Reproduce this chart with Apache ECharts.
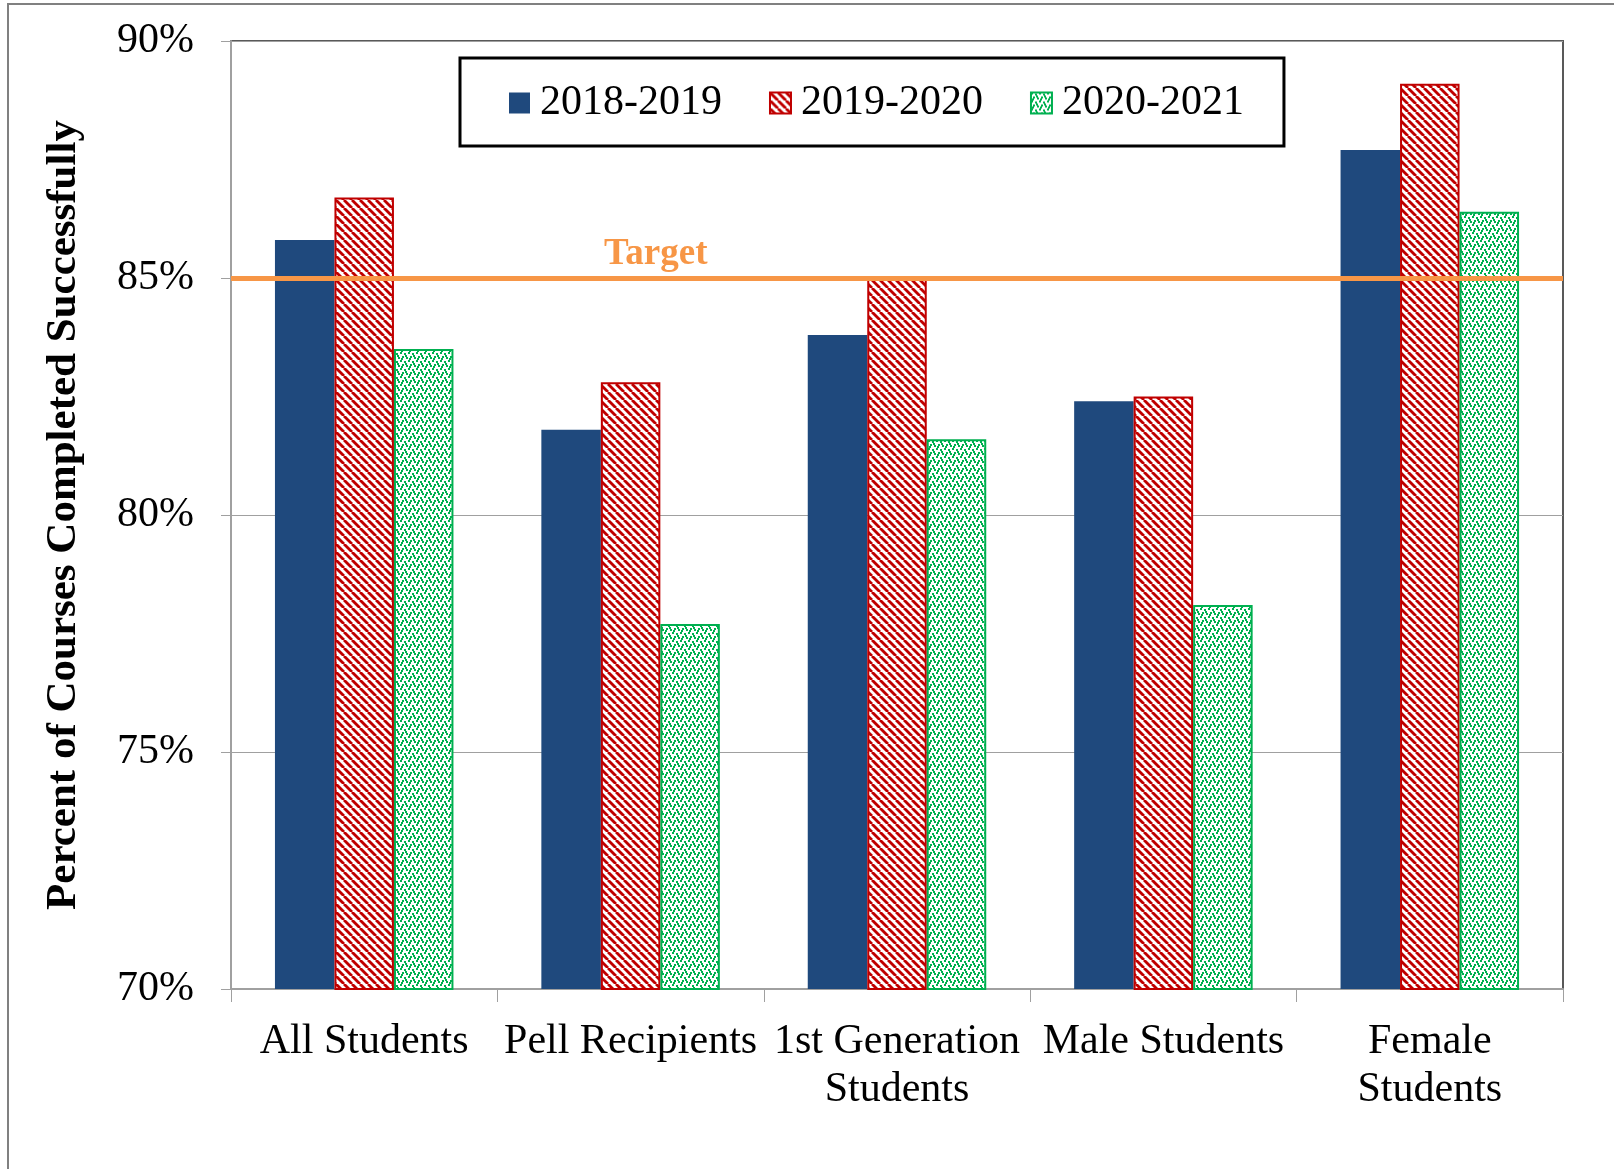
<!DOCTYPE html>
<html>
<head>
<meta charset="utf-8">
<script src="https://cdn.jsdelivr.net/npm/echarts@6/dist/echarts.min.js"></script>
<style>
  html, body { margin: 0; padding: 0; background: #fff; }
  #main { width: 1614px; height: 1169px; }
</style>
</head>
<body>
<div id="main"></div>
<script>
// 类别
var categories = ['All Students', 'Pell Recipients', '1st Generation\nStudents', 'Male Students', 'Female\nStudents'];
// 年份
var years = ['2018-2019', '2019-2020', '2020-2021'];
// 各年数据 (%)
var vals1819 = [85.8, 81.8, 83.8, 82.4, 87.7];
var vals1920 = [86.7, 82.8, 85.0, 82.5, 89.1];
var vals2021 = [83.5, 77.7, 81.6, 78.1, 86.4];
// 目标线
var target = 85;
var yTicks = { min: 70, max: 90, step: 5 };

var serif = '"Liberation Serif", "Times New Roman", serif';

// 斜线填充
function stripePattern() {
    var c = document.createElement('canvas');
    var s = 8;
    c.width = s; c.height = s;
    var ctx = c.getContext('2d');
    ctx.fillStyle = '#fff';
    ctx.fillRect(0, 0, s, s);
    ctx.strokeStyle = '#C00000';
    ctx.lineWidth = 2.8;
    for (var o = -s; o <= s; o += s) {
        ctx.beginPath();
        ctx.moveTo(o, 0);
        ctx.lineTo(o + s, s);
        ctx.stroke();
    }
    return c;
}

// 点状填充
function dotPattern() {
    var c = document.createElement('canvas');
    var s = 8;
    c.width = s; c.height = s;
    var ctx = c.getContext('2d');
    ctx.fillStyle = '#fff';
    ctx.fillRect(0, 0, s, s);
    ctx.fillStyle = '#00B050';
    var pts = [[0, 0], [4, 1], [2, 4], [6, 5], [1, 6], [5, 3]];
    pts.forEach(function (p) { ctx.fillRect(p[0], p[1], 2, 2); });
    return c;
}

var chart = echarts.init(document.getElementById('main'));
var option = {
    backgroundColor: '#fff',
    animation: false,
    graphic: [
        {
            type: 'rect',
            shape: { x: 8, y: 4, width: 1700, height: 1300 },
            style: { fill: 'none', stroke: '#808080', lineWidth: 2 },
            silent: true
        }
    ],
    grid: {
        left: 231, right: 51, top: 41, bottom: 180,
        show: true, borderColor: '#595959', borderWidth: 2
    },
    legend: {
        left: 460, top: 58,
        padding: [22, 40, 20, 49],
        borderColor: '#000', borderWidth: 3,
        itemWidth: 21, itemHeight: 21, itemGap: 47,
        icon: 'rect',
        textStyle: { fontFamily: serif, fontSize: 42, color: '#000', lineHeight: 46, padding: [0, 0, 0, 5] },
        data: years
    },
    xAxis: {
        type: 'category',
        data: categories,
        axisLine: { lineStyle: { color: '#A0A0A0', width: 2 } },
        axisTick: { show: true, length: 13, lineStyle: { color: '#A0A0A0', width: 1 } },
        axisLabel: { fontFamily: serif, fontSize: 42, color: '#000', lineHeight: 48, margin: 29, interval: 0 }
    },
    yAxis: {
        type: 'value',
        min: yTicks.min, max: yTicks.max, interval: yTicks.step,
        name: 'Percent of Courses Completed Successfully',
        nameLocation: 'middle',
        nameGap: 146,
        nameTextStyle: { fontFamily: serif, fontSize: 43, fontWeight: 'bold', color: '#000' },
        axisLine: { show: true, lineStyle: { color: '#A0A0A0', width: 2 } },
        axisTick: { show: true, length: 10, lineStyle: { color: '#A0A0A0' } },
        axisLabel: { formatter: '{value}%', fontFamily: serif, fontSize: 42, color: '#000', margin: 37 },
        splitLine: { lineStyle: { color: '#A0A0A0', width: 1 } }
    },
    series: [
        {
            name: years[0],
            type: 'bar',
            data: vals1819,
            barGap: '0%',
            barCategoryGap: '33%',
            itemStyle: { color: '#1F497D' },
            markLine: {
                silent: true,
                symbol: 'none',
                data: [{ yAxis: target }],
                lineStyle: { color: '#F79646', width: 5, type: 'solid' },
                label: {
                    show: true,
                    position: 'insideStartTop',
                    formatter: 'Target',
                    color: '#F79646',
                    fontFamily: serif,
                    fontWeight: 'bold',
                    fontSize: 37,
                    distance: 5,
                    padding: [0, 0, 0, 368]
                },
                z: 10
            }
        },
        {
            name: years[1],
            type: 'bar',
            data: vals1920,
            barGap: '0%',
            barCategoryGap: '33%',
            itemStyle: {
                color: { image: stripePattern(), repeat: 'repeat' },
                borderColor: '#C00000', borderWidth: 2
            }
        },
        {
            name: years[2],
            type: 'bar',
            data: vals2021,
            barGap: '0%',
            barCategoryGap: '33%',
            itemStyle: {
                color: { image: dotPattern(), repeat: 'repeat' },
                borderColor: '#00B050', borderWidth: 2
            }
        }
    ]
};
chart.setOption(option);
</script>
</body>
</html>
